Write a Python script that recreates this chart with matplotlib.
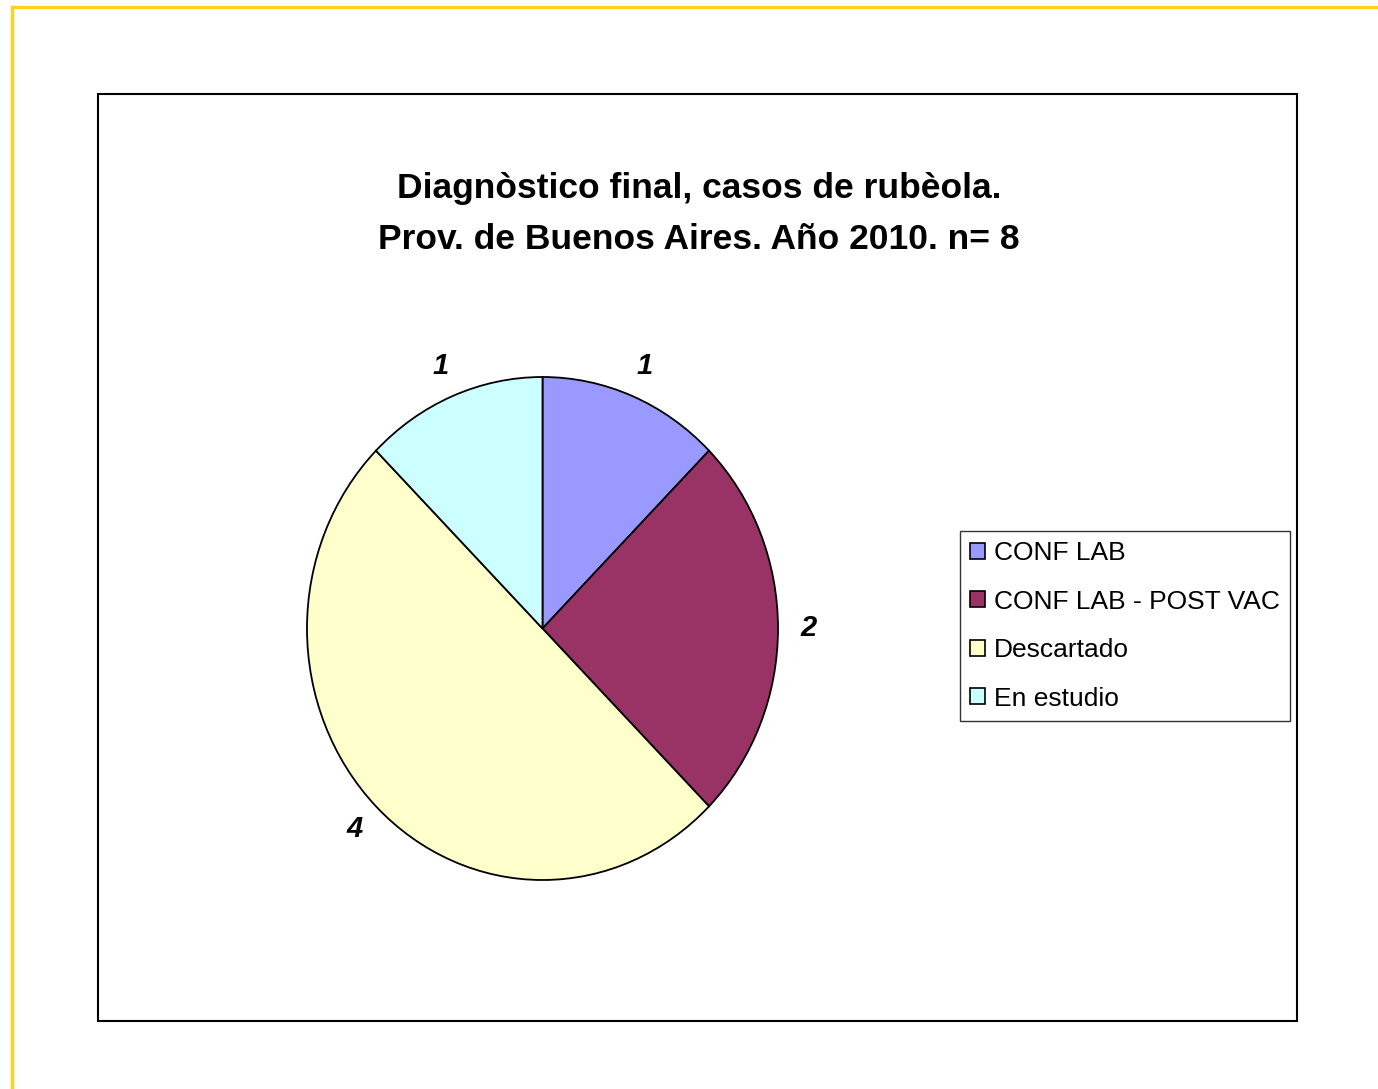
import matplotlib
matplotlib.use("Agg")
import matplotlib.pyplot as plt
from matplotlib.patches import Rectangle, Patch
from matplotlib.lines import Line2D

categorias = ["CONF LAB", "CONF LAB - POST VAC", "Descartado", "En estudio"]
casos = [1, 2, 4, 1]
colores = ["#9999FF", "#993366", "#FFFFCC", "#CCFFFF"]
titulo = "Diagnòstico final, casos de rubèola.\nProv. de Buenos Aires. Año 2010. n= 8"

W, H = 1378, 1089
plt.rcParams['font.family'] = ['Liberation Sans', 'DejaVu Sans']
fig = plt.figure(figsize=(W / 100, H / 100), dpi=100)

# yellow outer frame (only top and left visible)
fig.add_artist(Line2D([11.5 / W, 1.0], [1 - 6.5 / H, 1 - 6.5 / H], color="#FFD21F", lw=2.4))
fig.add_artist(Line2D([11.5 / W, 11.5 / W], [0.0, 1 - 6.5 / H], color="#FFD21F", lw=2.4))

# inner chart box
fig.add_artist(Rectangle((98 / W, 1 - 1021 / H), (1297 - 98) / W, (1021 - 94) / H,
                         transform=fig.transFigure, fill=False, ec="black", lw=1.5))

fig.text(699 / W, 1 - 214 / H, titulo, ha="center", va="center", fontsize=25.5,
         fontweight="bold", linespacing=1.7)

# pie (slightly taller than wide, like the original)
ax = fig.add_axes([307 / W, 1 - 880 / H, 471 / W, 503 / H])
wedges, texts = ax.pie(casos, colors=colores, startangle=90, counterclock=False,
                       labels=[str(c) for c in casos], labeldistance=1.13,
                       wedgeprops=dict(edgecolor="black", linewidth=1.3))
for t in texts:
    t.set_fontsize(21)
    t.set_fontweight("bold")
    t.set_fontstyle("italic")
    t.set_ha("center")
    t.set_va("center")
ax.set_aspect("auto")
ax.set_xlim(-1, 1)
ax.set_ylim(-1, 1)

handles = [Patch(facecolor=c, edgecolor="black", linewidth=1.2) for c in colores]
leg = fig.legend(handles, categorias, loc="upper left", bbox_to_anchor=(960 / W, 1 - 531 / H),
                 fontsize=19, frameon=True, fancybox=False, shadow=False,
                 handlelength=0.55, handleheight=0.55, handletextpad=0.35,
                 labelspacing=0.93, borderpad=0.38, borderaxespad=0)
leg.get_frame().set_edgecolor("black")
leg.get_frame().set_linewidth(1.0)

fig.savefig("out.png", dpi=100, facecolor="white")
